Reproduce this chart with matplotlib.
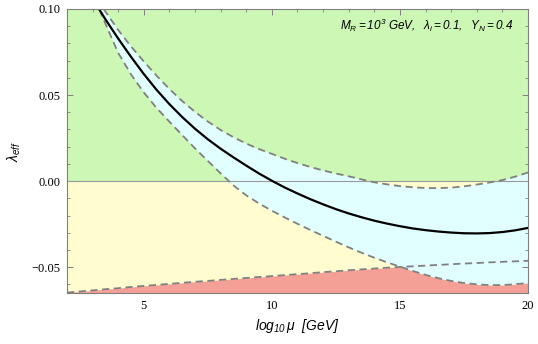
import numpy as np
import matplotlib
matplotlib.use("Agg")
import matplotlib.pyplot as plt
from matplotlib.ticker import MultipleLocator

plt.rcParams['mathtext.fontset'] = 'custom'
plt.rcParams['mathtext.rm'] = 'Liberation Sans:italic'
plt.rcParams['mathtext.it'] = 'Liberation Sans:italic'
plt.rcParams['mathtext.sf'] = 'Liberation Sans:italic'

# log10 mu grid and values
mu = [2, 2.5, 3, 3.5, 4, 4.5, 5, 5.5, 6, 6.5, 7, 7.5, 8, 8.5, 9, 9.5, 10,
      10.5, 11, 11.5, 12, 12.5, 13, 13.5, 14, 14.5, 15, 15.5, 16, 16.5,
      17, 17.5, 18, 18.5, 19, 19.5, 20]

lam_central = [0.137, 0.121, 0.106, 0.094, 0.0828, 0.0722, 0.0622, 0.0530, 0.0447,
               0.0372, 0.0304, 0.0243, 0.0188, 0.0138, 0.0090, 0.0044, 0.0002,
               -0.0037, -0.0072, -0.0105, -0.0135, -0.0163, -0.0188, -0.0210,
               -0.0230, -0.0247, -0.0262, -0.0275, -0.0285, -0.0293, -0.0299,
               -0.0303, -0.0304, -0.0302, -0.0296, -0.0286, -0.0272]

lam_upper = [0.138, 0.124, 0.111, 0.0985, 0.0878, 0.0782, 0.0695, 0.0612, 0.0535,
             0.0465, 0.0402, 0.0346, 0.0297, 0.0255, 0.0218, 0.0186, 0.0158,
             0.0130, 0.0105, 0.0082, 0.0062, 0.0044, 0.0028, 0.0010, -0.0007,
             -0.0019, -0.0029, -0.0036, -0.0040, -0.0041, -0.0038, -0.0031,
             -0.0020, -0.0008, 0.0006, 0.0026, 0.0050]

lam_lower = [0.135, 0.122, 0.109, 0.0915, 0.0745, 0.0620, 0.0515, 0.0425, 0.0345,
             0.0267, 0.0190, 0.0117, 0.0045, -0.0025, -0.0083, -0.0130, -0.0172,
             -0.0211, -0.0248, -0.0284, -0.0318, -0.0352, -0.0385, -0.0416,
             -0.0445, -0.0472, -0.0497, -0.0522, -0.0545, -0.0564, -0.0580,
             -0.0592, -0.0600, -0.0604, -0.0604, -0.0599, -0.0592]

# stability bound (lower edge of the yellow region)
lam_stab = [-0.0648, -0.0641, -0.0635, -0.0628, -0.0622, -0.0615, -0.0609, -0.0603,
            -0.0597, -0.0591, -0.0585, -0.0580, -0.0574, -0.0568, -0.0563, -0.0557,
            -0.0552, -0.0546, -0.0541, -0.0535, -0.0529, -0.0524, -0.0518,
            -0.0513, -0.0508, -0.0503, -0.0499, -0.0495, -0.0491, -0.0487,
            -0.0483, -0.0479, -0.0476, -0.0472, -0.0469, -0.0466, -0.0463]

x = np.array(mu)
yc = np.array(lam_central)
yu = np.array(lam_upper)
yl = np.array(lam_lower)
ys = np.array(lam_stab)

ymin, ymax = -0.065, 0.10

fig = plt.figure(figsize=(5.38, 3.44), dpi=100)
ax = fig.add_axes([0.1245, 0.1483, 0.8569, 0.8256])

ax.axhspan(0, ymax, color='#ccf7b4', lw=0, zorder=0)
ax.axhspan(ymin, 0, color='#fffdd0', lw=0, zorder=0)
ax.fill_between(x, yl, yu, color='#e2ffff', lw=0, zorder=1)
ax.fill_between(x, ymin - 0.01, np.minimum(ys, yl), color='#f4a096', lw=0, zorder=2)

ax.axhline(0, color='#999999', lw=0.8, zorder=3)

dash = (0, (4, 2.5))
ax.plot(x, yu, color='#808080', lw=1.3, ls=dash, zorder=4)
ax.plot(x, yl, color='#808080', lw=1.3, ls=dash, zorder=4)
ax.plot(x, ys, color='#808080', lw=1.3, ls=dash, zorder=4)
ax.plot(x, yc, color='black', lw=1.6, zorder=5)

ax.set_xlim(2, 20)
ax.set_ylim(ymin, ymax)
ax.xaxis.set_minor_locator(MultipleLocator(1))
ax.yaxis.set_minor_locator(MultipleLocator(0.01))
ax.set_yticks([-0.05, 0.0, 0.05, 0.10])
ax.set_yticklabels(['\u22120.05', '0.00', '0.05', '0.10'])
ax.set_xticks([5, 10, 15, 20])
ax.set_xticklabels(['5', '10', '15', '20'])

ax.tick_params(which='both', direction='in', top=True, right=True,
               color='#808080', labelsize=9, pad=5)
ax.tick_params(which='major', length=4, width=0.7)
ax.tick_params(which='minor', length=2.5, width=0.6)
for lab in ax.get_xticklabels() + ax.get_yticklabels():
    lab.set_fontfamily('Liberation Serif')
for sp in ax.spines.values():
    sp.set_color('#808080')
    sp.set_linewidth(0.8)
    sp.set_zorder(6)

ax.set_xlabel(r'$log_{10}\,\mu\ \ [GeV]$', fontsize=10, labelpad=4)
ax.set_ylabel(r'$\lambda_{eff}$', fontsize=10, labelpad=6)

ax.text(0.967, 0.944, r'$M_R = 10^3\ GeV,\ \ \lambda_i = 0.1,\ \ Y_N = 0.4$',
        transform=ax.transAxes, ha='right', va='center', fontsize=8.5, zorder=7)

fig.savefig('out.png', dpi=100)
